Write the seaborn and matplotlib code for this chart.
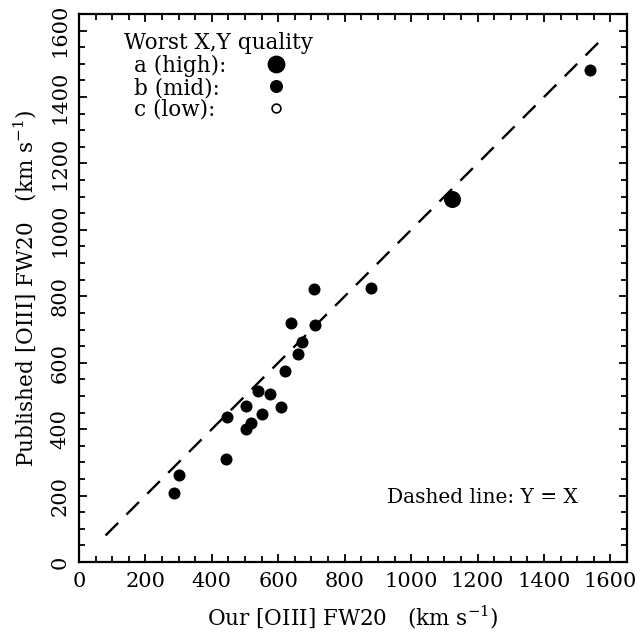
import matplotlib
matplotlib.use("Agg")
import matplotlib.pyplot as plt
import seaborn as sns
import pandas as pd
import numpy as np
from matplotlib.ticker import MultipleLocator

sns.set_theme(style="white")
plt.rcParams['font.family'] = ['DejaVu Serif']
plt.rcParams['mathtext.fontset'] = 'dejavuserif'
plt.rcParams['text.color'] = 'black'
plt.rcParams['axes.labelcolor'] = 'black'
plt.rcParams['xtick.color'] = 'black'
plt.rcParams['ytick.color'] = 'black'

# data
our_fw20 = [286, 301, 443, 447, 504, 517, 502, 538, 550, 575, 608, 619,
            659, 671, 638, 707, 712, 878, 1123, 1540]
pub_fw20 = [208, 262, 311, 437, 399, 420, 470, 515, 445, 505, 467, 575,
            626, 661, 721, 821, 715, 826, 1094, 1482]
quality = ['b'] * 18 + ['a', 'b']
line_xy = [80, 1570]

df = pd.DataFrame({'x': our_fw20, 'y': pub_fw20, 'q': quality})

fig = plt.figure(figsize=(6.44, 6.44), dpi=100)
ax = fig.add_axes([79/644, 1 - 562/644, (627-79)/644, (562-14)/644])

ax.plot(line_xy, line_xy, color='black', lw=1.7, dashes=(7.5, 5))

sns.scatterplot(data=df[df.q == 'b'], x='x', y='y', ax=ax, s=75,
                color='black', edgecolor='black', linewidth=0, legend=False)
sns.scatterplot(data=df[df.q == 'a'], x='x', y='y', ax=ax, s=150,
                color='black', edgecolor='black', linewidth=0, legend=False)

ax.set_xlim(0, 1650)
ax.set_ylim(0, 1650)
ax.xaxis.set_major_locator(MultipleLocator(200))
ax.yaxis.set_major_locator(MultipleLocator(200))
ax.xaxis.set_minor_locator(MultipleLocator(50))
ax.yaxis.set_minor_locator(MultipleLocator(50))
ax.tick_params(which='both', direction='in', top=True, right=True,
               bottom=True, left=True, color='black', width=1.3)
ax.tick_params(which='major', length=6, labelsize=15, pad=7)
ax.tick_params(which='minor', length=4)
for lab in ax.get_yticklabels():
    lab.set_rotation(90)
    lab.set_va('center')
for sp in ax.spines.values():
    sp.set_color('black')
    sp.set_linewidth(1.6)

ax.set_xlabel(r'Our [OIII] FW20   (km s$^{-1}$)', fontsize=15.5, labelpad=9)
ax.set_ylabel(r'Published [OIII] FW20   (km s$^{-1}$)', fontsize=15.5, labelpad=8)

# legend block
ax.text(0.083, 0.947, 'Worst X,Y quality', transform=ax.transAxes, fontsize=15.5,
        va='center', ha='left')
labels = ['a (high):', 'b (mid):', 'c (low):']
ys = [0.905, 0.864, 0.825]
for lab, yy in zip(labels, ys):
    ax.text(0.1, yy, lab, transform=ax.transAxes, fontsize=15.5, va='center', ha='left')
ax.scatter([0.36], [ys[0] + 0.004], s=140, color='black', transform=ax.transAxes)
ax.scatter([0.36], [ys[1] + 0.004], s=70, color='black', transform=ax.transAxes)
ax.scatter([0.36], [ys[2] + 0.004], s=40, facecolor='white', edgecolor='black',
           linewidth=1.2, transform=ax.transAxes)

ax.text(0.562, 0.118, 'Dashed line: Y = X', transform=ax.transAxes, fontsize=14.5,
        va='center', ha='left')

fig.savefig('out.png', dpi=100)
